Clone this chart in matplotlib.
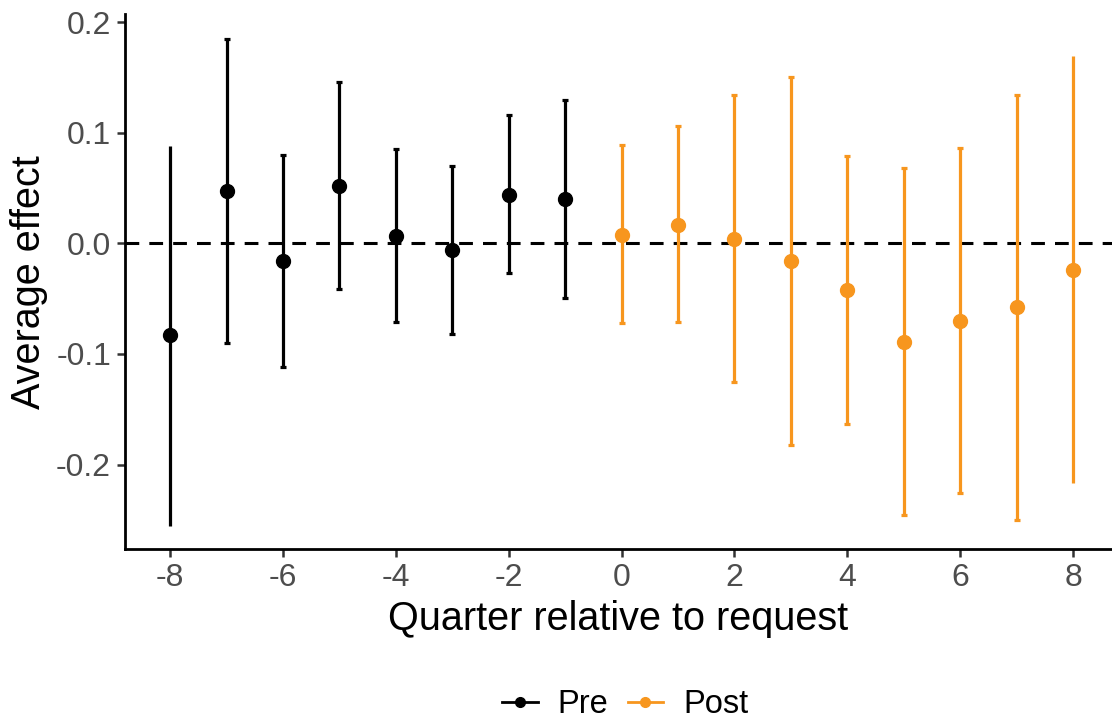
import matplotlib
matplotlib.use("Agg")
import matplotlib.pyplot as plt
from matplotlib.lines import Line2D
import numpy as np

plt.rcParams['font.family'] = ['Liberation Sans', 'DejaVu Sans']
plt.rcParams['axes.unicode_minus'] = False

# Event-study estimates with confidence bounds
pre_q = [-8, -7, -6, -5, -4, -3, -2, -1]
pre_est = [-0.083, 0.047, -0.016, 0.052, 0.007, -0.006, 0.044, 0.040]
pre_lo = [-0.256, -0.090, -0.112, -0.041, -0.071, -0.082, -0.027, -0.049]
pre_hi = [0.088, 0.185, 0.080, 0.146, 0.085, 0.070, 0.116, 0.130]

post_q = [0, 1, 2, 3, 4, 5, 6, 7, 8]
post_est = [0.008, 0.017, 0.004, -0.016, -0.042, -0.089, -0.070, -0.058, -0.024]
post_lo = [-0.072, -0.071, -0.125, -0.182, -0.163, -0.246, -0.226, -0.250, -0.217]
post_hi = [0.089, 0.106, 0.134, 0.150, 0.079, 0.068, 0.086, 0.134, 0.169]

pre_col = 'black'
post_col = '#F7961E'

fig = plt.figure(figsize=(11.12, 7.22), dpi=100)
ax = fig.add_axes([0.1124, 0.2396, 0.8876, 0.7404])

ax.axhline(0, color='black', lw=2.2, ls=(0, (4.5, 3.3)), zorder=1)


def draw(q, est, lo, hi, col):
    q = np.array(q)
    est = np.array(est)
    lo = np.array(lo)
    hi = np.array(hi)
    for i in range(len(q)):
        # whiskers at the ends of the axis lose their caps
        cap = 0 if abs(q[i]) == 8 else 2.2
        ax.errorbar(q[i], est[i], yerr=[[est[i] - lo[i]], [hi[i] - est[i]]],
                    fmt='o', color=col, ms=10, elinewidth=2.3,
                    capsize=cap, capthick=2.3, zorder=3)


draw(pre_q, pre_est, pre_lo, pre_hi, pre_col)
draw(post_q, post_est, post_lo, post_hi, post_col)

ax.set_xlim(-8.8, 8.69)
ax.set_ylim(-0.2764, 0.207)
ax.set_xticks(np.arange(-8, 9, 2))
ax.set_yticks([-0.2, -0.1, 0.0, 0.1, 0.2])
ax.set_yticklabels(['-0.2', '-0.1', '0.0', '0.1', '0.2'])

for s in ['top', 'right']:
    ax.spines[s].set_visible(False)
for s in ['left', 'bottom']:
    ax.spines[s].set_linewidth(2)
    ax.spines[s].set_color('black')

ax.tick_params(axis='both', length=6, width=1.8, color='#333333',
               labelsize=23, labelcolor='#4D4D4D', pad=4)

ax.set_xlabel('Quarter relative to request', fontsize=28.5, labelpad=5)
ax.set_ylabel('Average effect', fontsize=28.5, labelpad=6)

handles = [Line2D([], [], color=pre_col, marker='o', ms=7, lw=2),
           Line2D([], [], color=post_col, marker='o', ms=7, lw=2)]
fig.legend(handles, ['Pre', 'Post'], loc='center', bbox_to_anchor=(0.562, 0.024),
           ncol=2, frameon=False, fontsize=23.5, handlelength=1.1,
           handletextpad=0.6, columnspacing=0.6)

fig.savefig('out.png', dpi=100)
